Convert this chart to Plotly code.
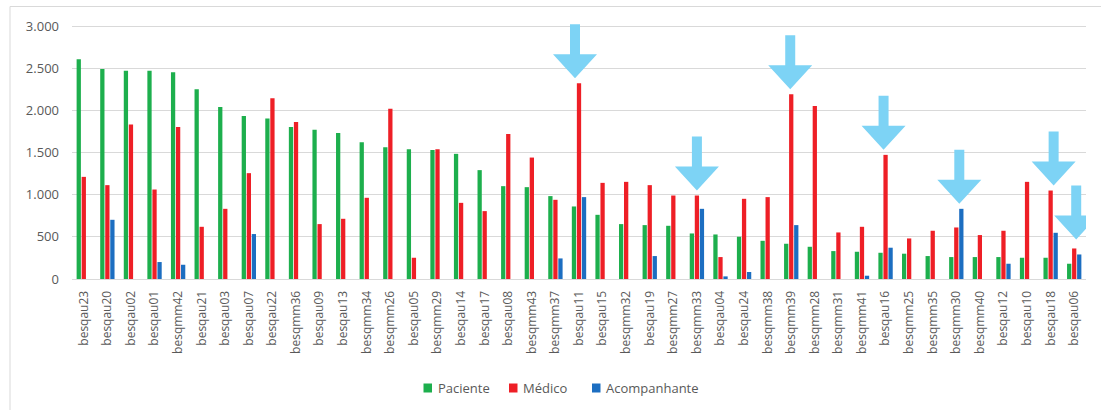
import plotly.graph_objects as go

# Categories (in display order) and the three series
categorias = [
    "besqau23", "besqau20", "besqau02", "besqau01", "besqmm42", "besqau21", "besqau03",
    "besqau07", "besqau22", "besqmm36", "besqau09", "besqau13", "besqmm34", "besqmm26",
    "besqau05", "besqmm29", "besqau14", "besqau17", "besqau08", "besqmm43", "besqmm37",
    "besqau11", "besqau15", "besqmm32", "besqau19", "besqmm27", "besqmm33", "besqau04",
    "besqau24", "besqmm38", "besqmm39", "besqmm28", "besqmm31", "besqmm41", "besqau16",
    "besqmm25", "besqmm35", "besqmm30", "besqmm40", "besqau12", "besqau10", "besqau18",
    "besqau06",
]

paciente = [
    2605, 2490, 2470, 2470, 2451, 2250, 2040, 1933, 1902, 1803, 1771, 1732, 1622, 1563,
    1539, 1531, 1484, 1291, 1101, 1089, 983, 860, 761, 651, 639, 631, 540, 528,
    501, 453, 418, 382, 331, 323, 311, 300, 272, 260, 260, 260, 252, 252, 181,
]

medico = [
    1211, 1113, 1831, 1061, 1803, 619, 832, 1255, 2143, 1862, 651, 714, 963, 2020,
    252, 1539, 903, 805, 1720, 1440, 939, 2321, 1140, 1152, 1113, 990, 990, 260,
    951, 971, 2190, 2052, 552, 619, 1472, 481, 572, 611, 521, 572, 1152, 1049, 362,
]

acompanhante = [
    None, 702, None, 201, 169, None, None, 533, None, None, None, None, None, None,
    None, None, None, None, None, None, 244, 971, None, None, 272, None, 832, 31,
    83, None, 639, None, None, 39, 371, None, None, 832, None, 181, None, 548, 291,
]

y_ticks = [0, 500, 1000, 1500, 2000, 2500, 3000]

# Highlighted categories (a down arrow above each)
destaques = ["besqau11", "besqmm33", "besqmm39", "besqau16", "besqmm30", "besqau18", "besqau06"]
destaque_dx = [-4, 0, -1, -2, 3, 3, 2]      # horizontal nudge, px
destaque_gap = [5, 5, 5, 5, 5, 5, 9]        # space above the tallest bar, px

VERDE = "#1DAF4D"
VERMELHO = "#EE1F26"
AZUL = "#1C6EC1"
SETA = "#7DD3F5"
CINZA_TXT = "#595959"
CINZA_GRADE = "#D9D9D9"
FONTE = "Open Sans"

W, H = 1101, 410
M_L, M_R, M_T, M_B = 72, 15, 23, 131

series = [
    ("Paciente", paciente, VERDE),
    ("Médico", medico, VERMELHO),
    ("Acompanhante", acompanhante, AZUL),
]

fig = go.Figure()
for nome, valores, cor in series:
    fig.add_trace(go.Bar(
        x=categorias, y=valores, name=nome,
        marker=dict(color=cor, line=dict(width=0)),
        hoverinfo="x+y+name", showlegend=False,
    ))

pw = W - M_L - M_R
ph = H - M_T - M_B
def px_x(p):
    return (p - M_L) / pw
def px_y(p):
    return (H - M_B - p) / ph

# Block arrows, anchored on the tallest bar of each highlighted category
shapes = []
for cat, dx, gap in zip(destaques, destaque_dx, destaque_gap):
    i = categorias.index(cat)
    topo = max(v for v in (paciente[i], medico[i], acompanhante[i]) if v is not None)
    g = gap
    path = (
        f"M{dx},{g} L{dx - 22},{g + 24} L{dx - 5},{g + 24} L{dx - 5},{g + 54} "
        f"L{dx + 5},{g + 54} L{dx + 5},{g + 24} L{dx + 22},{g + 24} Z"
    )
    shapes.append(dict(
        type="path", xref="x", yref="y",
        xsizemode="pixel", ysizemode="pixel",
        xanchor=i, yanchor=topo, path=path,
        fillcolor=SETA, line=dict(width=0), layer="above",
    ))

# Chart-area frame (top and left edges)
shapes.append(dict(type="line", xref="paper", yref="paper",
                   x0=px_x(10), x1=px_x(1110), y0=px_y(6.5), y1=px_y(6.5),
                   line=dict(color=CINZA_GRADE, width=1)))
shapes.append(dict(type="line", xref="paper", yref="paper",
                   x0=px_x(10), x1=px_x(10), y0=px_y(6.5), y1=px_y(420),
                   line=dict(color=CINZA_GRADE, width=1)))

# Legend row at the bottom: colour square + label for each series
annotations = []
legenda_x = [423.5, 509, 592]   # left edge of each square, px
legenda_y = 388
for (nome, _, cor), lx in zip(series, legenda_x):
    shapes.append(dict(type="rect", xref="paper", yref="paper",
                       x0=px_x(lx), x1=px_x(lx + 8.5),
                       y0=px_y(legenda_y - 4.5), y1=px_y(legenda_y + 4.5),
                       fillcolor=cor, line=dict(width=0)))
    annotations.append(dict(xref="paper", yref="paper",
                            x=px_x(lx + 12), y=px_y(legenda_y),
                            xanchor="left", yanchor="middle", showarrow=False,
                            text=nome, font=dict(family=FONTE, size=13, color=CINZA_TXT)))

y_top = 3000 * ph / (H - M_B - 26)

fig.update_layout(
    width=W, height=H,
    margin=dict(l=M_L, r=M_R, t=M_T, b=M_B, pad=0, autoexpand=False),
    paper_bgcolor="white", plot_bgcolor="white",
    barmode="group", bargap=0.36, bargroupgap=0.15,
    separators=",.",
    font=dict(family=FONTE, color=CINZA_TXT, size=12),
    showlegend=False,
    shapes=shapes,
    annotations=annotations,
)

fig.update_xaxes(
    type="category", range=[-0.5, len(categorias) - 0.5],
    tickangle=-90, tickfont=dict(family=FONTE, size=12, color=CINZA_TXT),
    showgrid=False, showline=True, linecolor=CINZA_GRADE, linewidth=1,
    ticks="", ticklabelstandoff=6, fixedrange=True, automargin=False,
)
fig.update_yaxes(
    range=[0, y_top], tickvals=y_ticks, tickformat=",d",
    tickfont=dict(family=FONTE, size=13, color=CINZA_TXT),
    showgrid=True, gridcolor=CINZA_GRADE, gridwidth=1,
    zeroline=False, showline=False, ticks="", ticklabelstandoff=12,
    fixedrange=True, automargin=False,
)

fig.write_html("out.html")
